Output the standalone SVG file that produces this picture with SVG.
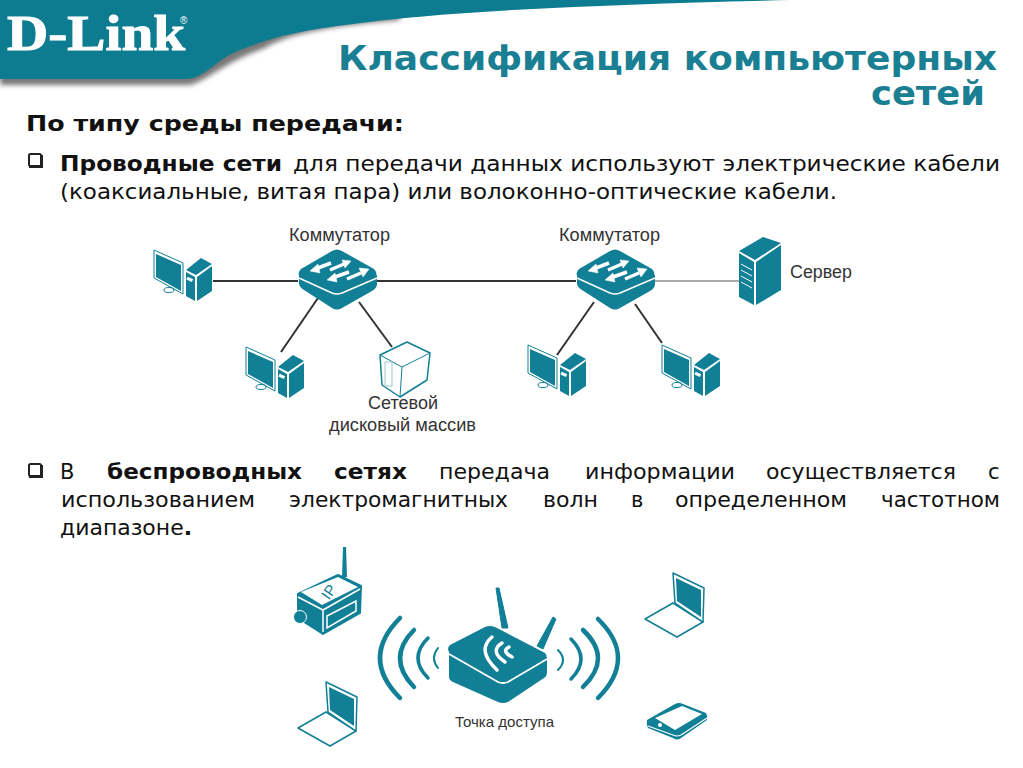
<svg xmlns="http://www.w3.org/2000/svg" width="1023" height="768" viewBox="0 0 1023 768">
<style>
.t{fill:#117f96}
.b{font-family:"DejaVu Sans",Verdana,sans-serif;font-size:21px;fill:#111}
.bb{font-weight:700}
.h{font-family:"DejaVu Sans",Verdana,sans-serif;font-size:33px;font-weight:700;fill:#1a7f93}
.l{font-family:"Liberation Sans",Arial,sans-serif;font-size:18px;fill:#333}
.c{fill:none;stroke:#333;stroke-width:2}
.w{fill:none;stroke:#117f96;stroke-width:4.5;stroke-linecap:round}
.ww{fill:none;stroke:#fff;stroke-width:3.5;stroke-linecap:round}
.o{fill:#fff;stroke:#117f96;stroke-width:1.5;stroke-linejoin:round}
.bx{fill:#fff;stroke:#222;stroke-width:2}
</style>
<defs>
<filter id="blur" x="-5%" y="-20%" width="110%" height="140%"><feGaussianBlur stdDeviation="2.5"/></filter>
<g id="pc">
<polygon points="0,2 29,15 29,46 0,30" fill="#fff" stroke="#117f96" stroke-width="1"/>
<polygon class="t" points="2,6 27,17 27,43 2,29"/>
<ellipse cx="15" cy="42" rx="5" ry="2.5" fill="none" stroke="#117f96" stroke-width="1"/>
<polygon class="t" points="32,24 41,29 41,53 32,48"/>
<polygon class="t" points="43,29 58,18 58,43 43,53"/>
<polygon class="t" points="32,22 47,10 58,16 42,27"/>
<rect x="33" y="30" width="6" height="3" fill="#fff" transform="rotate(25 36 31)"/>
</g>
<g id="sw">
<path class="t" d="M1,24 V34 Q1,38 6,41 L34,59 Q39,62 44,59 L74,42 Q79,39 79,35 V26 Z"/>
<path class="t" d="M3,20 L34,2 Q39,-1 44,2 L76,20 Q81,25 76,29 L44,42 Q39,44 34,42 L3,29 Q-2,25 3,20 Z"/>
<path d="M1,29 L34,44 Q39,46 44,44 L79,29" fill="none" stroke="#fff" stroke-width="1.5"/>
<g fill="#fff" stroke="#fff" stroke-linejoin="round">
<path d="M20,19 L33,14" stroke-width="3.5"/><polygon points="12,22 20,15 22,24" stroke-width="0.5"/>
<path d="M32,21 L46,15" stroke-width="3.5"/><polygon points="53,12 44,11 47,19" stroke-width="0.5"/>
<path d="M37,28 L51,23" stroke-width="3.5"/><polygon points="29,31 37,24 39,33" stroke-width="0.5"/>
<path d="M49,30 L63,24" stroke-width="3.5"/><polygon points="71,20 61,19 65,28" stroke-width="0.5"/>
</g>
</g>
<g id="lap">
<polygon points="0,46 28,30 58,49 32,64" class="o"/>
<polygon points="28,0 59,15 58,49 30,30" class="o"/>
<polygon points="31,5 56,17 56,44 32,28" class="t"/>
</g>
</defs>

<g id="header">
<path d="M0,5 H400 V20 C340,25 290,32 265,48 C225,62 205,82 190,85 H0 Z" fill="#777" filter="url(#blur)"/>
<path d="M0,0 H790 C620,4 450,10 345,25 C290,32 265,40 240,50 C215,60 205,78 187,79 H0 Z" fill="#0e7c90"/>
<text x="7" y="50" font-family="Liberation Serif,serif" font-weight="700" font-size="50" fill="#fff" stroke="#fff" stroke-width="1" textLength="178" lengthAdjust="spacingAndGlyphs">D-Link</text>
<text x="180" y="24" font-family="Liberation Sans,sans-serif" font-size="10" fill="#fff">®</text>
</g>

<g id="title">
<text class="h" x="338" y="70" textLength="659" lengthAdjust="spacingAndGlyphs">Классификация компьютерных</text>
<text class="h" x="871" y="105" textLength="114" lengthAdjust="spacingAndGlyphs">сетей</text>
</g>

<g id="body">
<text class="b bb" x="26" y="131" textLength="378" lengthAdjust="spacingAndGlyphs" style="font-size:22px">По типу среды передачи:</text>
<rect class="bx" x="29" y="154" width="12" height="12" rx="1.5"/>
<rect class="bx" x="29" y="464" width="12" height="12" rx="1.5"/>
<path d="M29,167 H42 V155" fill="none" stroke="#222" stroke-width="2"/>
<path d="M29,477 H42 V465" fill="none" stroke="#222" stroke-width="2"/>
<text class="b bb" x="60" y="171" textLength="222" lengthAdjust="spacingAndGlyphs">Проводные сети</text>
<text class="b" x="293" y="171" textLength="707" lengthAdjust="spacingAndGlyphs">для передачи данных используют электрические кабели</text>
<text class="b" x="60" y="199" textLength="777" lengthAdjust="spacingAndGlyphs">(коаксиальные, витая пара) или волоконно-оптические кабели.</text>
<text class="b" x="60" y="479">В</text>
<text class="b bb" x="107" y="479" textLength="195" lengthAdjust="spacingAndGlyphs">беспроводных</text>
<text class="b bb" x="334" y="479" textLength="73" lengthAdjust="spacingAndGlyphs">сетях</text>
<text class="b" x="439" y="479" textLength="111" lengthAdjust="spacingAndGlyphs">передача</text>
<text class="b" x="585" y="479" textLength="150" lengthAdjust="spacingAndGlyphs">информации</text>
<text class="b" x="766" y="479" textLength="190" lengthAdjust="spacingAndGlyphs">осуществляется</text>
<text class="b" x="988" y="479">с</text>
<text class="b" x="61" y="507" textLength="194" lengthAdjust="spacingAndGlyphs">использованием</text>
<text class="b" x="289" y="507" textLength="219" lengthAdjust="spacingAndGlyphs">электромагнитных</text>
<text class="b" x="543" y="507" textLength="55" lengthAdjust="spacingAndGlyphs">волн</text>
<text class="b" x="631" y="507">в</text>
<text class="b" x="675" y="507" textLength="172" lengthAdjust="spacingAndGlyphs">определенном</text>
<text class="b" x="881" y="507" textLength="119" lengthAdjust="spacingAndGlyphs">частотном</text>
<text class="b" x="60" y="535" textLength="132" lengthAdjust="spacingAndGlyphs">диапазоне<tspan class="bb">.</tspan></text>
</g>

<g id="connectors">
<line class="c" x1="213" y1="281" x2="298" y2="281"/>
<line class="c" x1="377" y1="281" x2="576" y2="281"/>
<line class="c" x1="654" y1="281" x2="739" y2="281" style="stroke:#aaa"/>
<line class="c" x1="318" y1="298" x2="281" y2="352"/>
<line class="c" x1="359" y1="302" x2="392" y2="347"/>
<line class="c" x1="594" y1="302" x2="557" y2="355"/>
<line class="c" x1="635" y1="304" x2="662" y2="343"/>
</g>

<g id="pc1"><use href="#pc" x="154" y="248"/></g>
<g id="switch1"><use href="#sw" x="298" y="249"/><text class="l" x="289" y="241" textLength="101" lengthAdjust="spacingAndGlyphs">Коммутатор</text></g>
<g id="pc2"><use href="#pc" x="246" y="345"/></g>
<g id="nas">
<polygon class="o" points="407,342 430,353 427,380 400,397 382,385 380,355"/>
<path d="M380,355 L402,367 L430,353 M402,367 L400,397" fill="none" stroke="#117f96" stroke-width="1"/>
<rect x="385" y="362" width="7" height="24" fill="none" stroke="#9cc" stroke-width="1"/>
<text class="l" x="403" y="409" text-anchor="middle" textLength="70" lengthAdjust="spacingAndGlyphs">Сетевой</text>
<text class="l" x="329" y="431" textLength="147" lengthAdjust="spacingAndGlyphs">дисковый массив</text>
</g>
<g id="switch2"><use href="#sw" x="576" y="249"/><text class="l" x="559" y="241" textLength="101" lengthAdjust="spacingAndGlyphs">Коммутатор</text></g>
<g id="pc3"><use href="#pc" x="528" y="343"/></g>
<g id="pc4"><use href="#pc" x="662" y="343"/></g>
<g id="server">
<polygon class="t" points="739,253 754,262 754,305 739,297"/>
<polygon class="t" points="756,262 781,245 781,290 756,305"/>
<polygon class="t" points="739,251 763,237 781,243 755,260"/>
<path d="M741,264 L752,270 M741,270 L752,276 M741,276 L752,282 M741,282 L752,288" stroke="#fff" stroke-width="1"/>
<text class="l" x="790" y="278" textLength="62" lengthAdjust="spacingAndGlyphs">Сервер</text>
</g>

<g id="camera">
<path d="M343,547 L346,547 L347,577 L342,577 Z" class="t"/>
<polygon class="t" points="298,594 338,575 361,586 360,613 323,634 298,618" stroke="#117f96" stroke-width="2" stroke-linejoin="round"/>
<polygon points="301,592 338,577 358,587 322,605" fill="#fff"/>
<path d="M298,597 L323,610 L323,632 M323,610 L360,589" fill="none" stroke="#fff" stroke-width="1.5"/>
<polygon class="t" points="327,616 356,601 356,611 327,628" stroke="#fff" stroke-width="1.5"/>
<circle class="t" cx="306" cy="615" r="7"/>
<circle class="t" cx="300" cy="617" r="6.5" stroke="#fff" stroke-width="1"/>
<text x="329" y="597" font-family="Liberation Sans,sans-serif" font-size="15" fill="#117f96" text-anchor="middle" transform="rotate(-55 329 592)">IP</text>
</g>

<g id="access-point">
<path d="M496,588 L499,588 L508,628 L502,628 Z" class="t" stroke="#117f96" stroke-linejoin="round"/>
<path d="M553,617 L556,619 L543,649 L537,646 Z" class="t" stroke="#117f96" stroke-linejoin="round"/>
<path class="t" d="M449,650 V677 Q449,680 453,682 L498,702 Q503,704 508,702 L544,678 Q547,676 547,672 V657 Z"/>
<path class="t" d="M450,645 L485,627 Q490,625 495,627 L545,653 Q548,656 545,659 L508,680 Q503,682 498,680 L450,653 Q446,649 450,645 Z"/>
<path d="M449,654 L498,682 Q503,684 508,682 L547,659" fill="none" stroke="#fff" stroke-width="1.8"/>
<path class="ww" d="M492,637 Q476,650 497,670"/>
<path class="ww" d="M502,643 Q489,651 505,662"/>
<path class="ww" d="M509,647 Q501,651 512,657"/>
<path class="w" d="M400,618 Q360,658 400,698"/>
<path class="w" d="M414,630 Q386,658 414,687"/>
<path class="w" d="M428,638 Q408,658 428,678" style="stroke-width:3.5"/>
<path class="w" d="M438,648 Q430,658 438,668" style="stroke-width:2"/>
<path class="w" d="M598,619 Q638,658 598,698"/>
<path class="w" d="M583,630 Q613,658 583,687"/>
<path class="w" d="M571,639 Q591,659 571,679" style="stroke-width:3.5"/>
<path class="w" d="M558,650 Q568,660 558,670" style="stroke-width:2"/>
<text class="l" x="455" y="727" textLength="99" lengthAdjust="spacingAndGlyphs" style="font-size:15px">Точка доступа</text>
</g>

<g id="laptop1"><use href="#lap" x="645" y="573"/></g>
<g id="laptop2"><use href="#lap" x="298" y="682"/></g>
<g id="tablet">
<path class="t" d="M647,720 L675,704 Q679,702 683,704 L706,713 Q708,716 707,720 L681,738 Q677,741 673,738 L648,728 Q646,724 647,720 Z"/>
<polygon points="655,718 682,706 702,714 675,730" fill="#fff"/>
<circle cx="660" cy="725" r="2" fill="#fff"/>
<path d="M648,726 L673,735 Q677,737 681,735 L707,718" fill="none" stroke="#fff" stroke-width="1.2"/>
</g>
</svg>
